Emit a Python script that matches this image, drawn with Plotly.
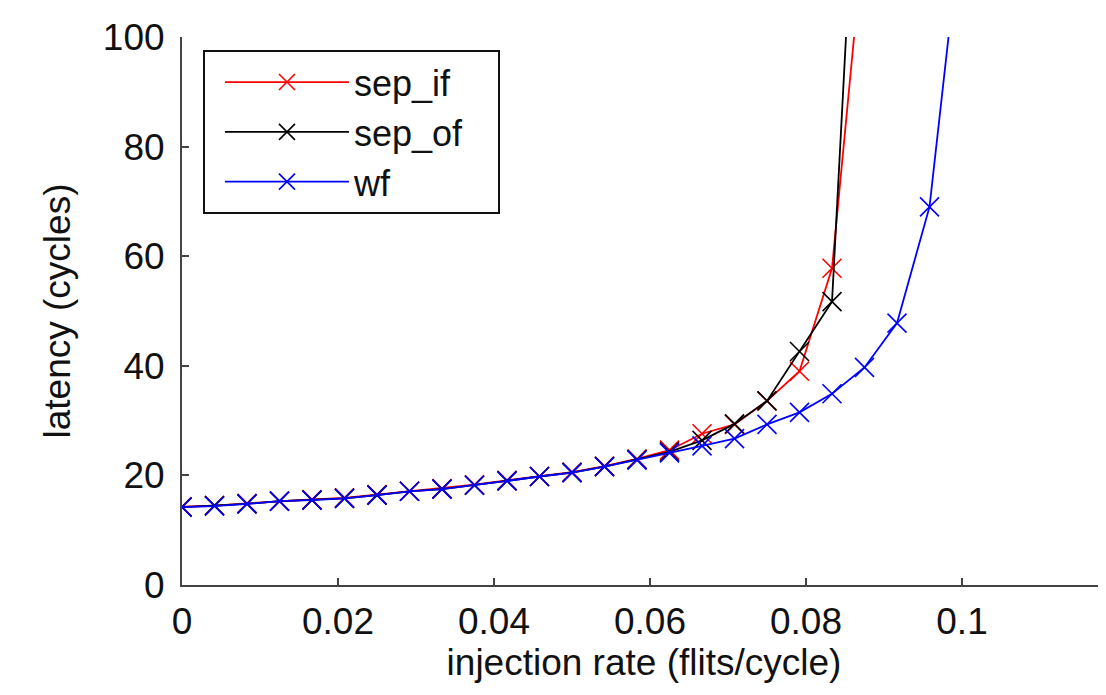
import plotly.graph_objects as go

# injection rate (flits/cycle): sample points every 1/240
step = 1.0 / 240.0
wf_x = [i * step for i in range(25)]
sep_if_x = [i * step for i in range(22)]
sep_of_x = [i * step for i in range(22)]

wf_y = [14.2, 14.4, 14.8, 15.3, 15.5, 15.8, 16.4, 17.1, 17.5, 18.2, 19.0, 19.8,
        20.5, 21.6, 22.8, 24.1, 25.4, 26.7, 29.3, 31.5, 34.9, 39.7, 47.8, 69.0, 122.0]
sep_if_y = [14.3, 14.5, 14.9, 15.3, 15.6, 15.9, 16.5, 17.1, 17.6, 18.3, 19.1, 19.8,
            20.6, 21.7, 23.0, 24.6, 27.6, 29.3, 33.6, 39.0, 57.8, 120.0]
sep_of_y = [14.2, 14.5, 14.8, 15.3, 15.5, 15.8, 16.4, 17.1, 17.5, 18.2, 19.0, 19.8,
            20.5, 21.6, 22.9, 24.3, 26.4, 29.4, 33.6, 42.6, 51.7, 164.0]

x_ticks = [0, 0.02, 0.04, 0.06, 0.08, 0.1]
x_labels = ["0", "0.02", "0.04", "0.06", "0.08", "0.1"]
y_ticks = [0, 20, 40, 60, 80, 100]

FONT = "Liberation Sans, Arial, sans-serif"
AX = "#444444"
PAD = "\u00a0\u00a0\u00a0"

fig = go.Figure()
series = [("sep_if", sep_if_x, sep_if_y, "#ff0000"),
          ("sep_of", sep_of_x, sep_of_y, "#000000"),
          ("wf", wf_x, wf_y, "#0000ff")]
for name, xs, ys, col in series:
    fig.add_trace(go.Scatter(
        x=xs, y=ys, name=name + PAD, mode="lines+markers", legendgroup=name,
        line=dict(color=col, width=1.8),
        marker=dict(symbol="x-thin", size=19, line=dict(color=col, width=1.6)),
    ))

# page body adds an 8px offset, so the figure is sized 8px smaller
fig.update_layout(
    width=1098, height=687,
    margin=dict(l=174, r=0, t=29, b=110),
    paper_bgcolor="white", plot_bgcolor="white",
    font=dict(family=FONT, size=37, color="#111111"),
    showlegend=True,
    legend=dict(
        x=0.0227, y=0.976, xanchor="left", yanchor="top",
        bordercolor="#111111", borderwidth=2, bgcolor="white",
        font=dict(family=FONT, size=36, color="#111111"),
        traceorder="grouped", tracegroupgap=0, itemwidth=124, indentation=15,
    ),
    xaxis=dict(
        range=[0, 0.11846], tickvals=x_ticks, ticktext=x_labels,
        showgrid=False, zeroline=False, showline=True, linecolor=AX, linewidth=2,
        ticks="inside", ticklen=7, tickwidth=1.5, tickcolor=AX,
        tickfont=dict(family=FONT, size=37), ticklabelstandoff=3,
        title=dict(text="injection rate (flits/cycle)", font=dict(family=FONT, size=37), standoff=4),
    ),
    yaxis=dict(
        range=[0, 100], tickvals=y_ticks,
        showgrid=False, zeroline=False, showline=True, linecolor=AX, linewidth=2,
        ticks="inside", ticklen=7, tickwidth=1.5, tickcolor=AX,
        tickfont=dict(family=FONT, size=37), ticklabelstandoff=8,
        title=dict(text="latency (cycles)", font=dict(family=FONT, size=37), standoff=21),
    ),
)

fig.write_html("out.html")
